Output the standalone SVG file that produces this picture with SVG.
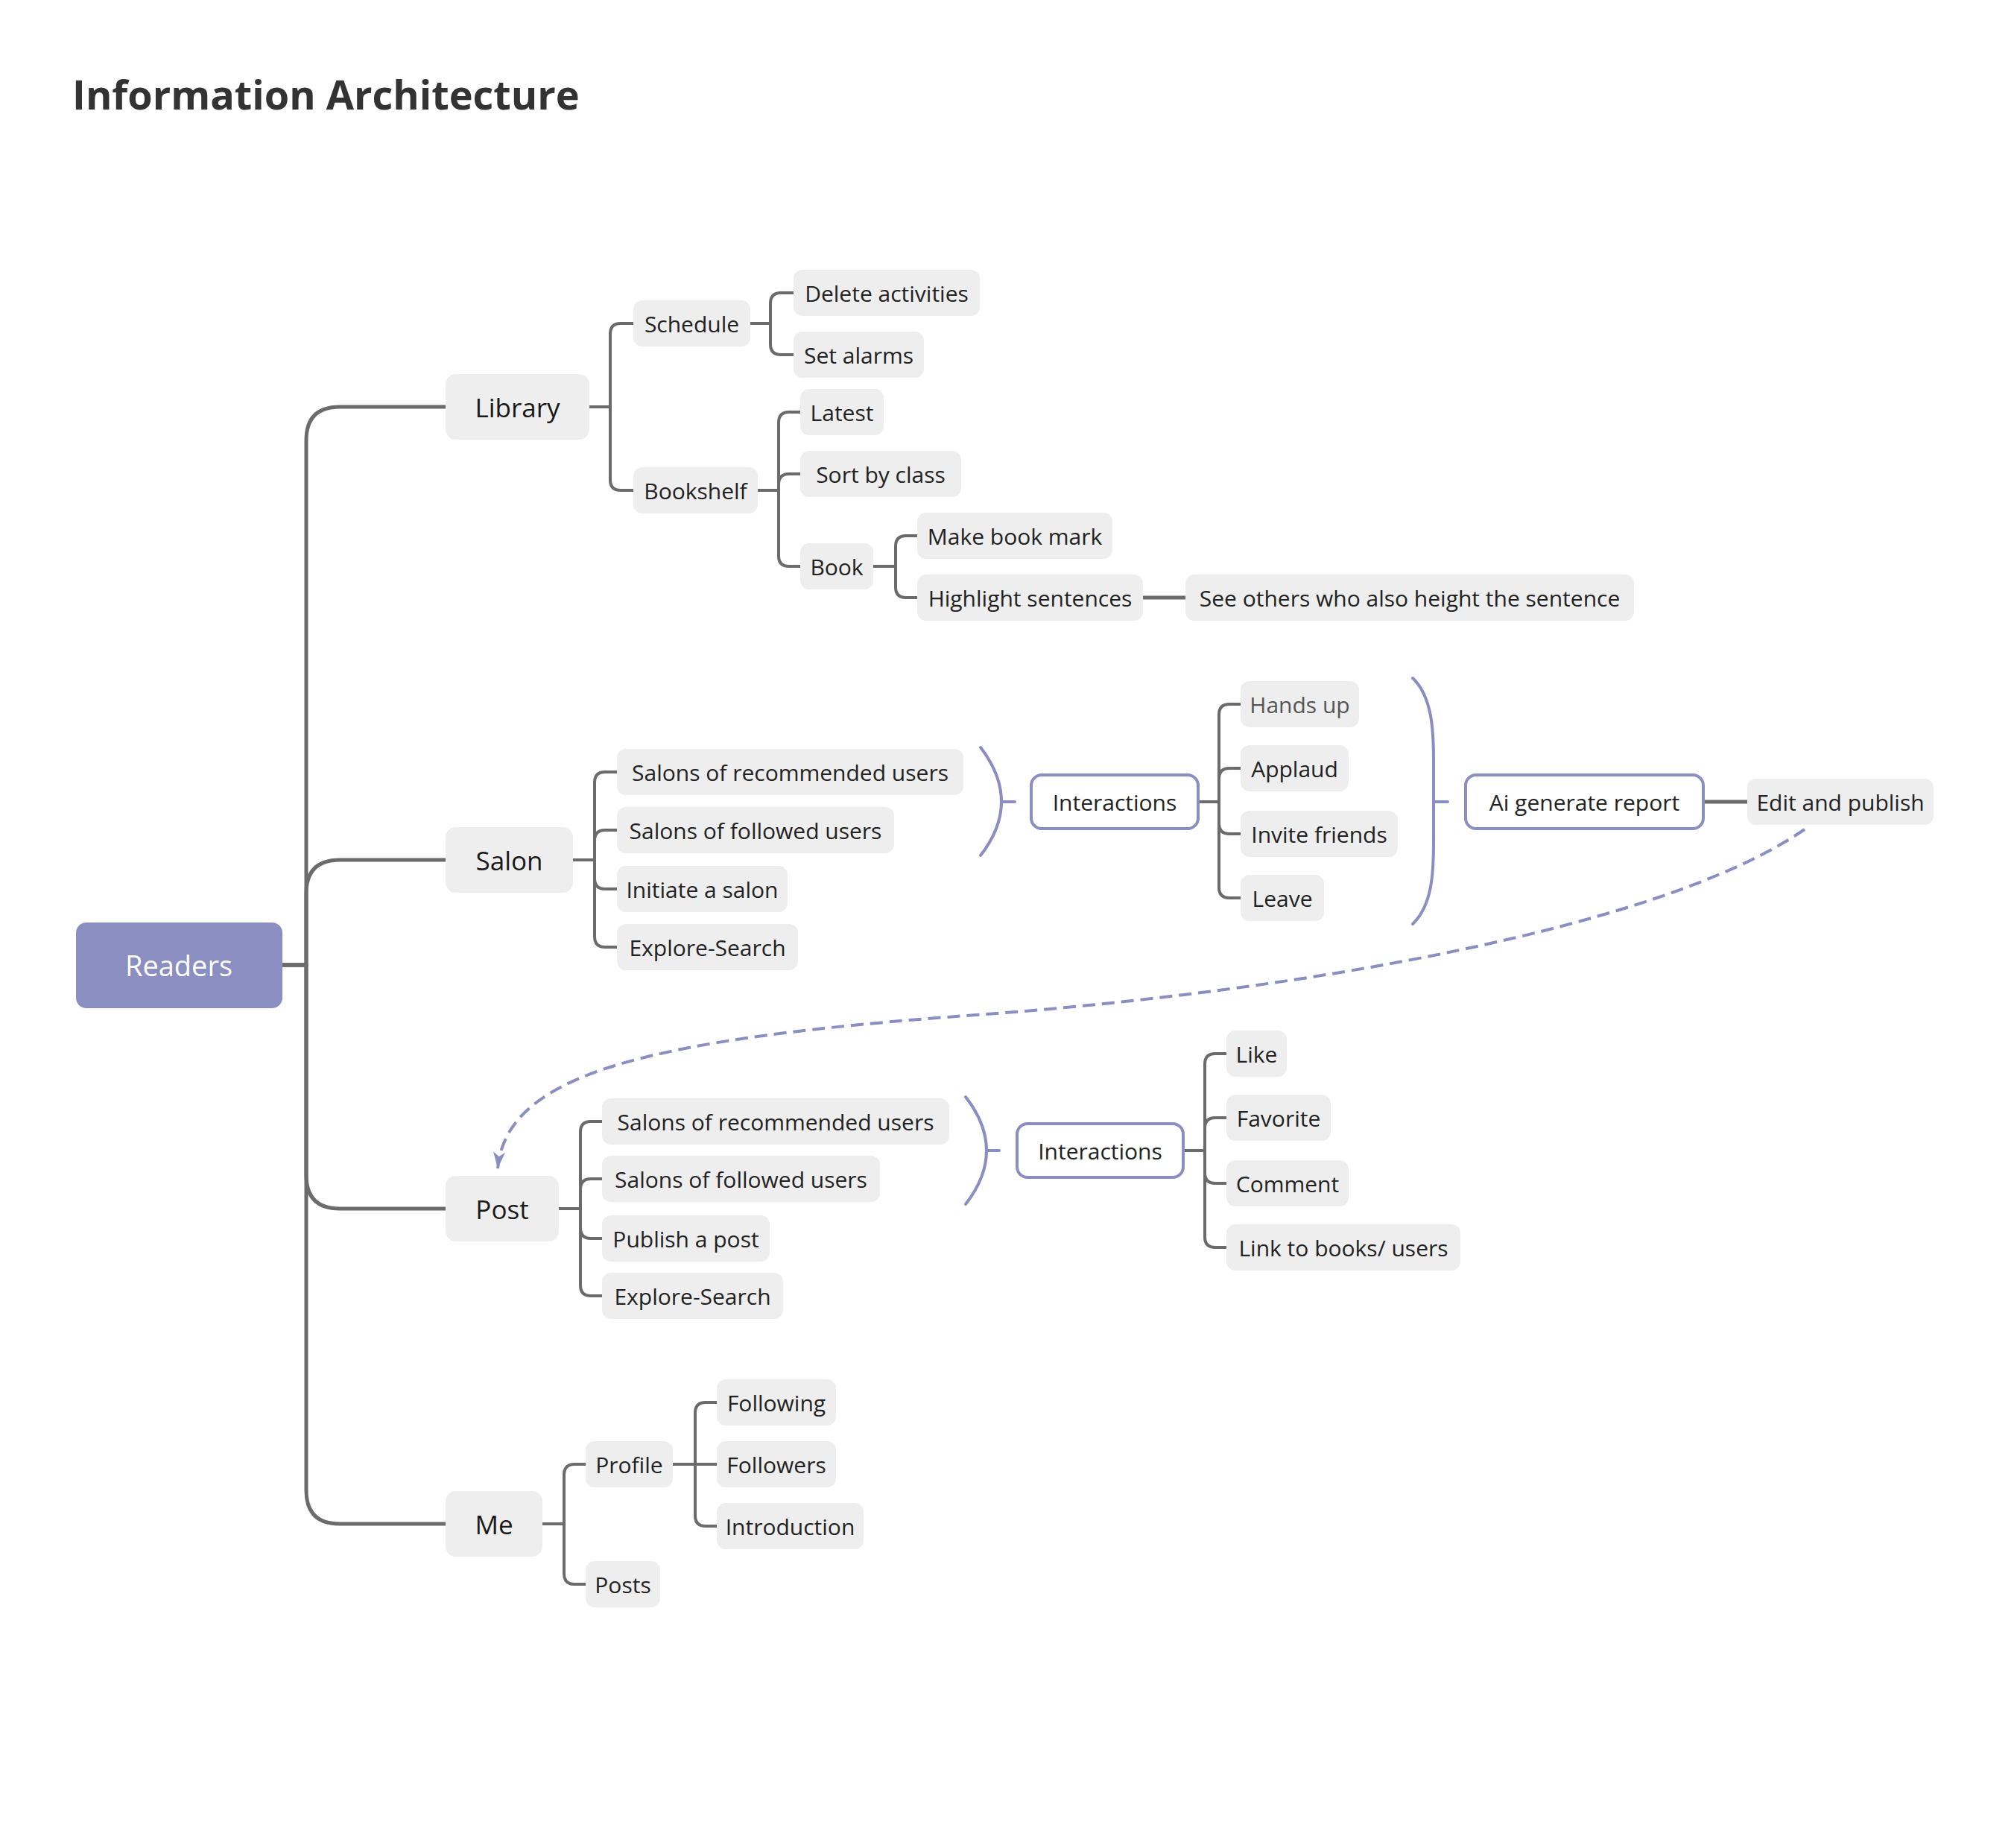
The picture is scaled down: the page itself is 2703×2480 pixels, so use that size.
<svg xmlns="http://www.w3.org/2000/svg" width="2703" height="2480" viewBox="0 0 2703 2480">
<style>
.n{fill:#eeeeee}
.o{fill:#ffffff;stroke:#8b8ec0;stroke-width:4}
.t{font-family:"Open Sans","Noto Sans",sans-serif;font-size:30px;fill:#222222;text-anchor:middle;dominant-baseline:central}
.top{font-size:35px;fill:#1a1a1a}
.c{fill:none;stroke:#6b6b6b;stroke-width:4;stroke-linecap:round;stroke-linejoin:round}
.tk{stroke-width:5}
.p{fill:none;stroke:#8b8ec0;stroke-width:4;stroke-linecap:round}
.d{fill:none;stroke:#8b8ec0;stroke-width:4;stroke-dasharray:17 9}
</style>
<defs>
<marker id="arr" markerUnits="userSpaceOnUse" markerWidth="24" markerHeight="20" refX="22" refY="8" orient="auto">
<path d="M0,0 L22,8 L0,16 L6,8 Z" fill="#8b8ec0"/>
</marker>
</defs>
<rect width="2703" height="2480" fill="#ffffff"/>
<text x="97" y="147" font-family="'Open Sans','Noto Sans',sans-serif" font-weight="bold" font-size="54" fill="#333333">Information Architecture</text>

<g id="connectors">
<path class="c tk" d="M379,1295 H411 V591 Q411,546 456,546 H598"/>
<path class="c tk" d="M379,1295 H411 V1199 Q411,1154 456,1154 H598"/>
<path class="c tk" d="M379,1295 H411 V1577 Q411,1622 456,1622 H598"/>
<path class="c tk" d="M379,1295 H411 V2000 Q411,2045 456,2045 H598"/>
<path class="c" d="M791,546 H819 V448 Q819,434 833,434 H850"/>
<path class="c" d="M791,546 H819 V644 Q819,658 833,658 H850"/>
<path class="c" d="M1007,434 H1034 V407 Q1034,393 1048,393 H1065"/>
<path class="c" d="M1007,434 H1034 V462 Q1034,476 1048,476 H1065"/>
<path class="c" d="M1017,658 H1045 V567 Q1045,553 1059,553 H1074"/>
<path class="c" d="M1017,658 H1045 V650 Q1045,636 1059,636 H1074"/>
<path class="c" d="M1017,658 H1045 V746 Q1045,760 1059,760 H1074"/>
<path class="c" d="M1172,760 H1202 V733 Q1202,719 1216,719 H1231"/>
<path class="c" d="M1172,760 H1202 V788 Q1202,802 1216,802 H1231"/>
<path class="c tk" d="M1534,802 H1591"/>
<path class="c" d="M769,1154 H798 V1050 Q798,1036 812,1036 H828"/>
<path class="c" d="M769,1154 H798 V1128 Q798,1114 812,1114 H828"/>
<path class="c" d="M769,1154 H798 V1179 Q798,1193 812,1193 H828"/>
<path class="c" d="M769,1154 H798 V1257 Q798,1271 812,1271 H828"/>
<path class="c" d="M1608,1076 H1636 V959 Q1636,945 1650,945 H1665"/>
<path class="c" d="M1608,1076 H1636 V1045 Q1636,1031 1650,1031 H1665"/>
<path class="c" d="M1608,1076 H1636 V1105 Q1636,1119 1650,1119 H1665"/>
<path class="c" d="M1608,1076 H1636 V1191 Q1636,1205 1650,1205 H1665"/>
<path class="c tk" d="M2286,1076 H2345"/>
<path class="c" d="M750,1622 H779 V1519 Q779,1505 793,1505 H808"/>
<path class="c" d="M750,1622 H779 V1596 Q779,1582 793,1582 H808"/>
<path class="c" d="M750,1622 H779 V1648 Q779,1662 793,1662 H808"/>
<path class="c" d="M750,1622 H779 V1725 Q779,1739 793,1739 H808"/>
<path class="c" d="M1588,1544 H1617 V1428 Q1617,1414 1631,1414 H1646"/>
<path class="c" d="M1588,1544 H1617 V1514 Q1617,1500 1631,1500 H1646"/>
<path class="c" d="M1588,1544 H1617 V1574 Q1617,1588 1631,1588 H1646"/>
<path class="c" d="M1588,1544 H1617 V1660 Q1617,1674 1631,1674 H1646"/>
<path class="c" d="M728,2045 H757 V1979 Q757,1965 771,1965 H786"/>
<path class="c" d="M728,2045 H757 V2112 Q757,2126 771,2126 H786"/>
<path class="c" d="M903,1965 H933 V1896 Q933,1882 947,1882 H962"/>
<path class="c" d="M903,1965 H962"/>
<path class="c" d="M903,1965 H933 V2034 Q933,2048 947,2048 H962"/>
<path class="p" d="M1316,1003 Q1372,1076 1316,1148 M1344,1076 H1362"/>
<path class="p" d="M1896,910 C1922,935 1924,980 1924,1020 V1130 C1924,1172 1922,1215 1896,1240 M1924,1076 H1943"/>
<path class="p" d="M1296,1472 Q1352,1544 1296,1616 M1324,1544 H1341"/>
<path class="d" d="M2422,1113 C2230,1245 1750,1330 1310,1362 C870,1394 680,1440 668,1568" marker-end="url(#arr)"/>
</g>

<g id="readers"><rect x="102" y="1238" width="277" height="115" rx="14" fill="#8b8ec0"/><text class="t" x="240" y="1295" style="font-size:38px;fill:#ffffff">Readers</text></g>
<g id="library"><rect class="n" x="598" y="502" width="193" height="88" rx="14"/><text class="t top" x="694.5" y="546">Library</text></g>
<g id="salon"><rect class="n" x="598" y="1110" width="171" height="88" rx="14"/><text class="t top" x="683.5" y="1154">Salon</text></g>
<g id="post"><rect class="n" x="598" y="1578" width="152" height="88" rx="14"/><text class="t top" x="674" y="1622">Post</text></g>
<g id="me"><rect class="n" x="598" y="2001" width="130" height="88" rx="14"/><text class="t top" x="663" y="2045">Me</text></g>

<g id="schedule"><rect class="n" x="850" y="403" width="157" height="62" rx="12"/><text class="t" x="928.5" y="434">Schedule</text></g>
<g id="delete-activities"><rect class="n" x="1065" y="362" width="250" height="62" rx="12"/><text class="t" x="1190" y="393">Delete activities</text></g>
<g id="set-alarms"><rect class="n" x="1065" y="445" width="175" height="62" rx="12"/><text class="t" x="1152.5" y="476">Set alarms</text></g>
<g id="bookshelf"><rect class="n" x="850" y="627" width="167" height="62" rx="12"/><text class="t" x="933.5" y="658">Bookshelf</text></g>
<g id="latest"><rect class="n" x="1074" y="522" width="112" height="62" rx="12"/><text class="t" x="1130" y="553">Latest</text></g>
<g id="sort-by-class"><rect class="n" x="1074" y="605" width="216" height="62" rx="12"/><text class="t" x="1182" y="636">Sort by class</text></g>
<g id="book"><rect class="n" x="1074" y="729" width="98" height="62" rx="12"/><text class="t" x="1123" y="760">Book</text></g>
<g id="make-book-mark"><rect class="n" x="1231" y="688" width="262" height="62" rx="12"/><text class="t" x="1362" y="719">Make book mark</text></g>
<g id="highlight-sentences"><rect class="n" x="1231" y="771" width="303" height="62" rx="12"/><text class="t" x="1382.5" y="802">Highlight sentences</text></g>
<g id="see-others"><rect class="n" x="1591" y="771" width="602" height="62" rx="12"/><text class="t" x="1892" y="802">See others who also height the sentence</text></g>

<g id="salon-recommended"><rect class="n" x="828" y="1005" width="465" height="62" rx="12"/><text class="t" x="1060.5" y="1036">Salons of recommended users</text></g>
<g id="salon-followed"><rect class="n" x="828" y="1083" width="372" height="62" rx="12"/><text class="t" x="1014" y="1114">Salons of followed users</text></g>
<g id="initiate-salon"><rect class="n" x="828" y="1162" width="229" height="62" rx="12"/><text class="t" x="942.5" y="1193">Initiate a salon</text></g>
<g id="salon-explore"><rect class="n" x="828" y="1240" width="243" height="62" rx="12"/><text class="t" x="949.5" y="1271">Explore-Search</text></g>
<g id="salon-interactions"><rect class="o" x="1384" y="1040" width="224" height="72" rx="14"/><text class="t" x="1496" y="1076">Interactions</text></g>
<g id="hands-up"><rect class="n" x="1665" y="914" width="159" height="62" rx="12"/><text class="t" x="1744.5" y="945" style="fill:#555555">Hands up</text></g>
<g id="applaud"><rect class="n" x="1665" y="1000" width="145" height="62" rx="12"/><text class="t" x="1737.5" y="1031">Applaud</text></g>
<g id="invite-friends"><rect class="n" x="1665" y="1088" width="211" height="62" rx="12"/><text class="t" x="1770.5" y="1119">Invite friends</text></g>
<g id="leave"><rect class="n" x="1665" y="1174" width="112" height="62" rx="12"/><text class="t" x="1721" y="1205">Leave</text></g>
<g id="ai-report"><rect class="o" x="1967" y="1040" width="319" height="72" rx="14"/><text class="t" x="2126.5" y="1076">Ai generate report</text></g>
<g id="edit-publish"><rect class="n" x="2345" y="1045" width="250" height="62" rx="12"/><text class="t" x="2470" y="1076">Edit and publish</text></g>

<g id="post-recommended"><rect class="n" x="808" y="1474" width="466" height="62" rx="12"/><text class="t" x="1041" y="1505">Salons of recommended users</text></g>
<g id="post-followed"><rect class="n" x="808" y="1551" width="373" height="62" rx="12"/><text class="t" x="994.5" y="1582">Salons of followed users</text></g>
<g id="publish-post"><rect class="n" x="808" y="1631" width="225" height="62" rx="12"/><text class="t" x="920.5" y="1662">Publish a post</text></g>
<g id="post-explore"><rect class="n" x="808" y="1708" width="243" height="62" rx="12"/><text class="t" x="929.5" y="1739">Explore-Search</text></g>
<g id="post-interactions"><rect class="o" x="1365" y="1508" width="223" height="72" rx="14"/><text class="t" x="1476.5" y="1544">Interactions</text></g>
<g id="like"><rect class="n" x="1646" y="1383" width="81" height="62" rx="12"/><text class="t" x="1686.5" y="1414">Like</text></g>
<g id="favorite"><rect class="n" x="1646" y="1469" width="140" height="62" rx="12"/><text class="t" x="1716" y="1500">Favorite</text></g>
<g id="comment"><rect class="n" x="1646" y="1557" width="164" height="62" rx="12"/><text class="t" x="1728" y="1588">Comment</text></g>
<g id="link-books-users"><rect class="n" x="1646" y="1643" width="314" height="62" rx="12"/><text class="t" x="1803" y="1674">Link to books/ users</text></g>

<g id="profile"><rect class="n" x="786" y="1934" width="117" height="62" rx="12"/><text class="t" x="844.5" y="1965">Profile</text></g>
<g id="posts"><rect class="n" x="786" y="2095" width="100" height="62" rx="12"/><text class="t" x="836" y="2126">Posts</text></g>
<g id="following"><rect class="n" x="962" y="1851" width="160" height="62" rx="12"/><text class="t" x="1042" y="1882">Following</text></g>
<g id="followers"><rect class="n" x="962" y="1934" width="160" height="62" rx="12"/><text class="t" x="1042" y="1965">Followers</text></g>
<g id="introduction"><rect class="n" x="962" y="2017" width="197" height="62" rx="12"/><text class="t" x="1060.5" y="2048">Introduction</text></g>
</svg>
